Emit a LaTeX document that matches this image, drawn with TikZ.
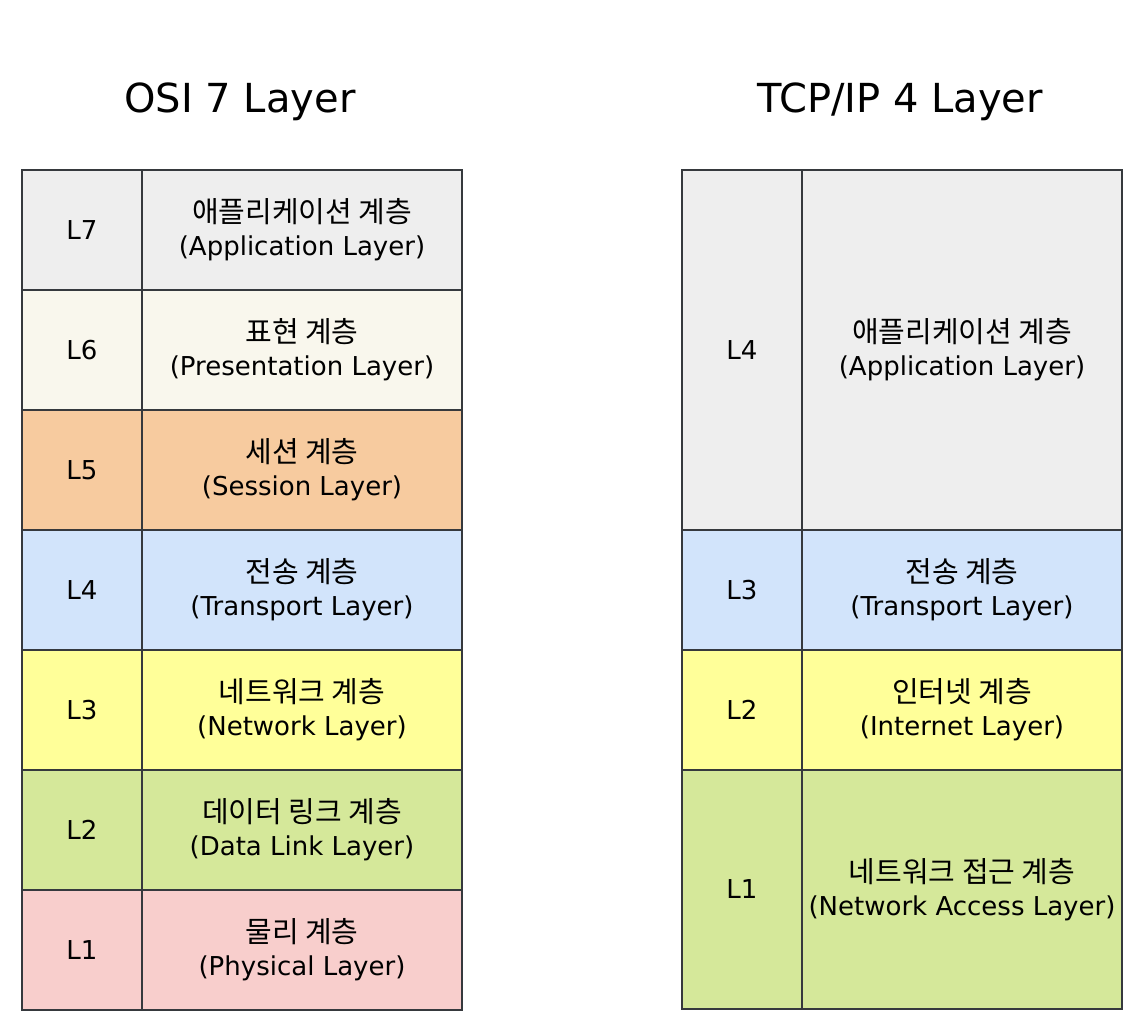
\documentclass[tikz,border=0pt]{standalone}
\usepackage{fontspec}
\setmainfont{DejaVu Sans}
\newfontfamily\krfont{Noto Sans CJK KR}
\definecolor{bordc}{HTML}{36393D}
\definecolor{cL7}{HTML}{EEEEEE}
\definecolor{cL6}{HTML}{F9F7ED}
\definecolor{cL5}{HTML}{F7CB9F}
\definecolor{cL4}{HTML}{D2E4FB}
\definecolor{cL3}{HTML}{FFFF99}
\definecolor{cL2}{HTML}{D5E89A}
\definecolor{cL1}{HTML}{F8CECC}
\newcommand{\krl}[1]{{\krfont\fontsize{29}{33}\selectfont #1}}
\begin{document}
\begin{tikzpicture}[x=1pt,y=-1pt,
  cell/.style={draw=bordc,line width=2pt,minimum width=#1,inner sep=0pt,anchor=north west,align=center,font=\fontsize{26}{33}\selectfont},
  ttl/.style={font=\fontsize{40}{44}\selectfont}]
\useasboundingbox (0,0) rectangle (1144,1024);
% titles
\node[ttl] (t1) at (240,102) {OSI 7 Layer};
\node[ttl] (t2) at (900,102) {TCP/IP 4 Layer};
% OSI rows
\foreach \i/\lab/\kr/\en/\col [count=\k from 0] in {
  7/L7/애플리케이션 계층/Application Layer/cL7,
  6/L6/표현 계층/Presentation Layer/cL6,
  5/L5/세션 계층/Session Layer/cL5,
  4/L4/전송 계층/Transport Layer/cL4,
  3/L3/네트워크 계층/Network Layer/cL3,
  2/L2/데이터 링크 계층/Data Link Layer/cL2,
  1/L1/물리 계층/Physical Layer/cL1}{
  \node[cell=120pt,minimum height=120pt,fill=\col] (oL\i) at (21,169+120*\k) {\lab};
  \node[cell=320pt,minimum height=120pt,fill=\col] (oN\i) at (141,169+120*\k) {\krl{\kr}\\(\en)};
}
% TCP/IP rows
\node[cell=120pt,minimum height=360pt,fill=cL7] (tL4) at (681,169) {L4};
\node[cell=320pt,minimum height=360pt,fill=cL7] (tN4) at (801,169) {\krl{애플리케이션 계층}\\(Application Layer)};
\node[cell=120pt,minimum height=120pt,fill=cL4] (tL3) at (681,529) {L3};
\node[cell=320pt,minimum height=120pt,fill=cL4] (tN3) at (801,529) {\krl{전송 계층}\\(Transport Layer)};
\node[cell=120pt,minimum height=120pt,fill=cL3] (tL2) at (681,649) {L2};
\node[cell=320pt,minimum height=120pt,fill=cL3] (tN2) at (801,649) {\krl{인터넷 계층}\\(Internet Layer)};
\node[cell=120pt,minimum height=239pt,fill=cL2] (tL1) at (681,769) {L1};
\node[cell=320pt,minimum height=239pt,fill=cL2] (tN1) at (801,769) {\krl{네트워크 접근 계층}\\(Network Access Layer)};
\end{tikzpicture}
\end{document}
